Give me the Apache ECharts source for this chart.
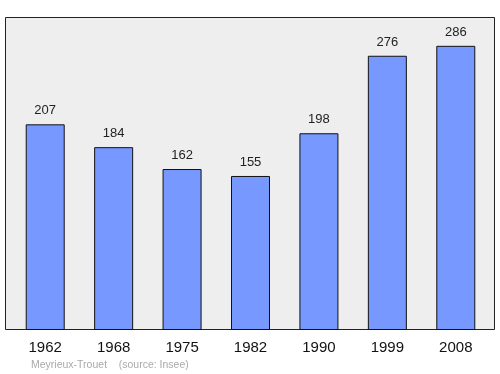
<!DOCTYPE html>
<html><head><meta charset="utf-8">
<script src="https://cdn.jsdelivr.net/npm/echarts@6/dist/echarts.min.js"></script>
<style>html,body{margin:0;padding:0;background:#fff}#c{width:500px;height:374px}</style>
</head><body><div id="c"></div>
<script>
var categories = ['1962','1968','1975','1982','1990','1999','2008'];
var population = [207,184,162,155,198,276,286];
var footerText = 'Meyrieux-Trouet    (source: Insee)';

var chart = echarts.init(document.getElementById('c'), null, {renderer:'canvas'});
chart.setOption({
  animation:false,
  graphic:[
    {type:'rect', shape:{x:5.5,y:17.5,width:489,height:312}, style:{fill:'#eeeeee',stroke:'#222',lineWidth:1}, z:-10},
    {type:'text', left:31, top:360, style:{text:footerText, fill:'#aaaaaa', font:'10.5px "Liberation Sans", Arial, sans-serif'}}
  ],
  grid:{left:11, right:10, top:17, bottom:44},
  xAxis:{type:'category', data:categories,
    axisLine:{show:false}, axisTick:{show:false},
    axisLabel:{color:'#111', fontSize:15, fontFamily:'"Liberation Sans", Arial, sans-serif', margin:10}},
  yAxis:{type:'value', min:0, max:315, show:false, splitLine:{show:false}},
  series:[{type:'bar', data:population, barWidth:39,
    itemStyle:{color:'#7799ff', borderColor:'#111', borderWidth:1},
    label:{show:true, position:'top', distance:7, color:'#222', fontSize:13, fontFamily:'"Liberation Sans", Arial, sans-serif'}}]
});
</script></body></html>
